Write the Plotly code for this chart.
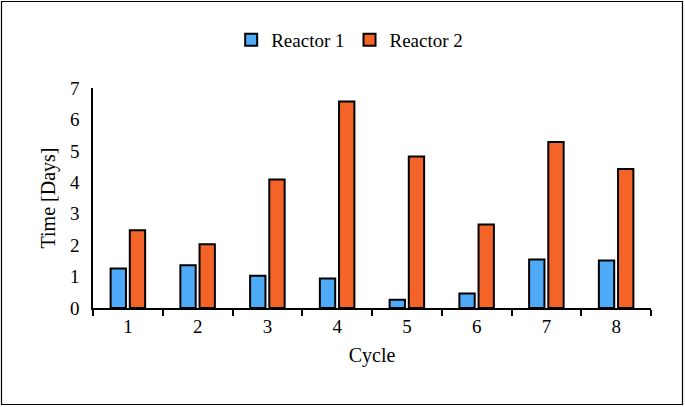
import plotly.graph_objects as go

cycles = ["1", "2", "3", "4", "5", "6", "7", "8"]
reactor1 = [1.26, 1.36, 1.03, 0.94, 0.26, 0.46, 1.54, 1.51]
reactor2 = [2.47, 2.03, 4.09, 6.57, 4.82, 2.66, 5.28, 4.42]
y_ticks = [0, 1, 2, 3, 4, 5, 6, 7]

W, H = 685, 407
ML, MR, MT, MB = 93, 34, 88, 99
FONT = "Liberation Serif, Times New Roman, serif"

fig = go.Figure()
fig.add_trace(go.Bar(x=cycles, y=reactor1, name="Reactor 1",
                     marker=dict(color="#4FABF7", line=dict(color="black", width=2))))
fig.add_trace(go.Bar(x=cycles, y=reactor2, name="Reactor 2",
                     marker=dict(color="#F46428", line=dict(color="black", width=2))))

pw = W - ML - MR
ph = H - MT - MB
fig.add_shape(type="rect", xref="paper", yref="paper",
              x0=(1.5 - ML) / pw, x1=(W - 2.5 - ML) / pw,
              y0=-(H - 2.5 - MT - ph) / ph, y1=1 + (MT - 1.5) / ph,
              line=dict(color="black", width=1.2), fillcolor="rgba(0,0,0,0)")

fig.update_layout(
    width=W, height=H,
    margin=dict(l=ML, r=MR, t=MT, b=MB, autoexpand=False),
    paper_bgcolor="white", plot_bgcolor="white",
    font=dict(family=FONT, size=19, color="black"),
    barmode="group", bargap=0.45, bargroupgap=0.2,
    showlegend=True,
    legend=dict(orientation="h", x=0.46, xanchor="center", y=1 + (MT - 40) / ph,
                yanchor="middle", font=dict(size=19, family=FONT),
                itemwidth=30, tracegroupgap=0),
    xaxis=dict(type="category", showline=True, linecolor="black", linewidth=1.5,
               ticks="outside", tickson="boundaries", ticklen=6, tickwidth=1.5,
               tickcolor="black", showgrid=False, zeroline=False,
               tickfont=dict(size=19),
               title=dict(text="Cycle", font=dict(size=20), standoff=12)),
    yaxis=dict(range=[0, 7], tickvals=y_ticks, showline=True, linecolor="black",
               linewidth=1.5, ticks="", showgrid=False, zeroline=False,
               tickfont=dict(size=19), ticklabelstandoff=8,
               title=dict(text="Time [Days]", font=dict(size=20), standoff=9)),
)

fig.write_html("out.html", config={"displayModeBar": False},
               post_script="document.body.style.margin='0';document.body.style.overflow='hidden';")
